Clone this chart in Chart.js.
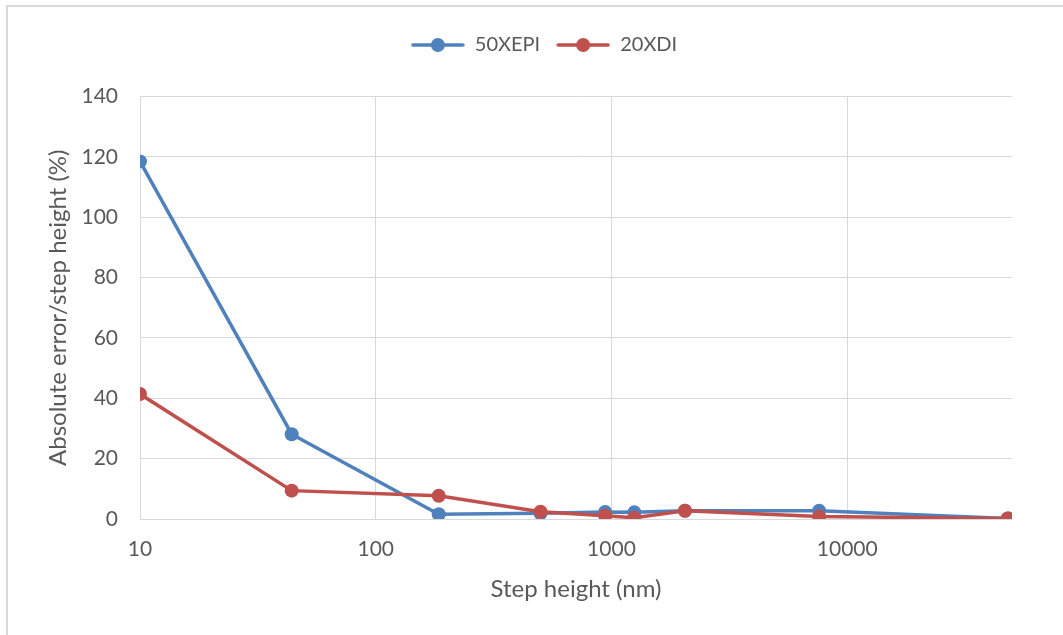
<!DOCTYPE html>
<html>
<head>
<meta charset="utf-8">
<script src="https://cdn.jsdelivr.net/npm/chart.js@4"></script>
<style>
  html, body { margin: 0; padding: 0; background: #ffffff; }
  #c { display: block; }
</style>
</head>
<body>
<canvas id="c" width="1063" height="635"></canvas>
<script>
// ---- data ----
const stepHeights = [10, 44, 185, 500, 940, 1250, 2050, 7600, 48000];
const err50XEPI   = [118.5, 28.1, 1.6, 1.9, 2.3, 2.2, 2.75, 2.75, 0.2];
const err20XDI    = [41.4, 9.4, 7.7, 2.4, 1.1, 0.4, 2.75, 0.8, 0.2];
const seriesNames = ['50XEPI', '20XDI'];
const xTickValues = [10, 100, 1000, 10000];
const xTitle = 'Step height (nm)';
const yTitle = 'Absolute error/step height (%)';

const BLUE = '#4F81BD';
const RED = '#C0504D';
const TEXT = '#595959';
const GRID = '#d9d9d9';
const FONT = 'Lato, "Open Sans", sans-serif';

function legendIcon(color) {
  const c = document.createElement('canvas');
  c.width = 54; c.height = 16;
  const g = c.getContext('2d');
  g.strokeStyle = color; g.lineWidth = 3.5; g.lineCap = 'round';
  g.beginPath(); g.moveTo(2, 8); g.lineTo(52, 8); g.stroke();
  g.fillStyle = color;
  g.beginPath(); g.arc(27, 8, 7, 0, Math.PI * 2); g.fill();
  return c;
}

const frame = {
  id: 'frame',
  beforeDraw(chart) {
    const ctx = chart.ctx;
    ctx.save();
    ctx.fillStyle = '#ffffff';
    ctx.fillRect(0, 0, chart.width, chart.height);
    ctx.strokeStyle = GRID;
    ctx.lineWidth = 2;
    ctx.strokeRect(7, 6, chart.width + 20, chart.height + 20);
    ctx.restore();
  }
};

const toPts = ys => stepHeights.map((x, i) => ({ x: x, y: ys[i] }));

new Chart(document.getElementById('c'), {
  type: 'line',
  data: {
    datasets: [
      { label: seriesNames[0], data: toPts(err50XEPI), borderColor: BLUE, backgroundColor: BLUE,
        borderWidth: 3.5, pointRadius: 7, pointBackgroundColor: BLUE, pointBorderColor: BLUE,
        pointBorderWidth: 0, tension: 0, order: 1 },
      { label: seriesNames[1], data: toPts(err20XDI), borderColor: RED, backgroundColor: RED,
        borderWidth: 3.5, pointRadius: 7, pointBackgroundColor: RED, pointBorderColor: RED,
        pointBorderWidth: 0, tension: 0, order: 0 }
    ]
  },
  options: {
    responsive: false,
    animation: false,
    devicePixelRatio: 1,
    layout: { padding: { left: 25, right: 0, top: 19, bottom: 0 } },
    plugins: {
      tooltip: { enabled: false },
      title: {
        display: true, text: '', position: 'top', weight: 500,
        font: { size: 10 }, padding: { top: 19.5, bottom: 0 }
      },
      legend: {
        position: 'top',
        weight: 1000,
        labels: {
          usePointStyle: true,
          pointStyleWidth: 54,
          padding: 16,
          color: TEXT,
          font: { family: FONT, size: 20 },
          sort: (a, b) => a.datasetIndex - b.datasetIndex,
          generateLabels(chart) {
            return chart.data.datasets.map((ds, i) => ({
              text: ds.label,
              fillStyle: ds.borderColor,
              strokeStyle: ds.borderColor,
              fontColor: TEXT,
              pointStyle: legendIcon(ds.borderColor),
              lineWidth: 0,
              hidden: false,
              datasetIndex: i
            }));
          }
        }
      }
    },
    scales: {
      x: {
        type: 'logarithmic',
        min: 10,
        max: 50000,
        afterBuildTicks(scale) { scale.ticks = xTickValues.map(v => ({ value: v })); },
        afterFit(scale) { scale.height = 116; scale.paddingRight = 51; },
        grid: { color: GRID, lineWidth: 1, drawTicks: false },
        border: { display: false },
        ticks: {
          color: TEXT, font: { family: FONT, size: 21 }, padding: 18,
          maxRotation: 0, autoSkip: false,
          callback: v => String(v)
        },
        title: {
          display: true, text: xTitle, color: TEXT,
          font: { family: FONT, size: 24 }, padding: { top: 0, bottom: 31 }
        }
      },
      y: {
        type: 'linear',
        min: 0,
        max: 140,
        afterFit(scale) { scale.width = 115; },
        grid: { color: GRID, lineWidth: 1, drawTicks: false },
        border: { display: true, color: GRID, width: 1 },
        ticks: {
          stepSize: 20, color: TEXT, font: { family: FONT, size: 21 }, padding: 22
        },
        title: {
          display: true, text: yTitle, color: TEXT,
          font: { family: FONT, size: 24 }, padding: { top: 19, bottom: 0 }
        }
      }
    }
  },
  plugins: [frame]
});
</script>
</body>
</html>
